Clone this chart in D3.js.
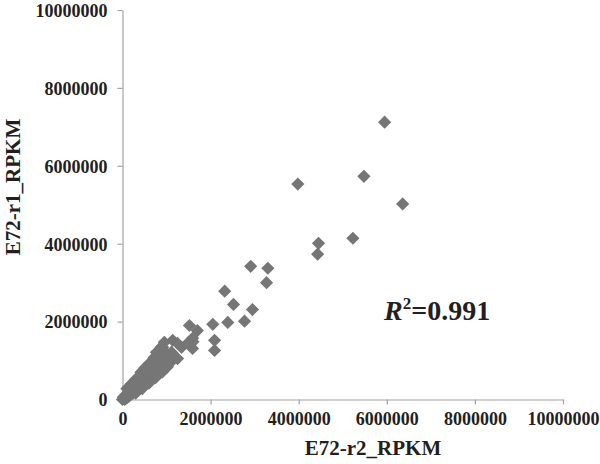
<!DOCTYPE html>
<html>
<head>
<meta charset="utf-8">
<script src="https://cdn.jsdelivr.net/npm/d3@7"></script>
<style>
  body { margin: 0; background: #fff; }
  svg text { font-family: "Liberation Serif", "Times New Roman", serif; font-weight: bold; fill: #231f20; }
</style>
</head>
<body>
<div id="chart"></div>
<script>
// Data (RPKM)
const r2Rpkm = [
  5950000, 5480000, 6360000, 3980000, 5230000, 4450000, 4430000, 2910000, 3300000, 3270000,
  2320000, 2520000, 2950000, 2390000, 2770000, 2050000, 1520000, 1700000, 1590000, 1590000,
  2090000, 2090000, 1600000,
  950000, 1140000, 1340000, 1250000, 1500000, 1250000, 1070000, 1110000, 910000, 770000,
  0, 20000, 50000, 60000, 100000, 100000, 140000, 150000, 180000, 200000,
  240000, 220000, 280000, 300000, 270000, 340000, 360000, 320000, 400000, 420000,
  380000, 470000, 480000, 440000, 530000, 540000, 500000, 600000, 600000, 560000,
  660000, 660000, 620000, 720000, 720000, 680000, 780000, 780000, 740000, 840000,
  840000, 800000, 920000, 900000, 860000, 980000, 960000, 920000, 1040000, 1020000,
  1080000, 1120000,
  100000, 200000, 300000, 420000, 500000, 600000, 720000, 800000, 880000,
  300000, 450000, 600000, 750000, 900000, 1020000
];
const r1Rpkm = [
  7120000, 5730000, 5020000, 5530000, 4140000, 4010000, 3730000, 3420000, 3370000, 3000000,
  2780000, 2440000, 2310000, 1980000, 2010000, 1930000, 1900000, 1770000, 1570000, 1310000,
  1520000, 1260000, 1480000,
  1470000, 1520000, 1340000, 1440000, 1470000, 1050000, 930000, 1210000, 1340000, 1210000,
  0, 60000, 0, 100000, 40000, 140000, 80000, 200000, 120000, 250000,
  160000, 320000, 220000, 300000, 380000, 270000, 360000, 450000, 320000, 430000,
  520000, 380000, 500000, 580000, 440000, 560000, 640000, 480000, 620000, 720000,
  550000, 680000, 800000, 600000, 760000, 880000, 660000, 840000, 960000, 720000,
  900000, 1020000, 800000, 980000, 1100000, 880000, 1060000, 1200000, 960000, 1160000,
  1060000, 1200000,
  280000, 400000, 520000, 700000, 800000, 920000, 1080000, 1200000, 1350000,
  160000, 280000, 420000, 560000, 700000, 840000
];
const tickValues = [0, 2000000, 4000000, 6000000, 8000000, 10000000];
const rSquared = "0.991";

const points = r2Rpkm.map((v, i) => [v, r1Rpkm[i]]);

const [w, h] = [600, 464];
const svg = d3.select("#chart")
  .append("svg")
  .attr("width", w)
  .attr("height", h);

const xScale = d3.scaleLinear().domain([0, 10000000]).range([122.5, 563]);
const yScale = d3.scaleLinear().domain([0, 10000000]).range([399.5, 10]);

// axes
const xAxis = d3.axisBottom(xScale)
  .tickValues(tickValues)
  .tickFormat(d3.format("d"))
  .tickSizeInner(5)
  .tickSizeOuter(0)
  .tickPadding(6);

const yAxis = d3.axisLeft(yScale)
  .tickValues(tickValues)
  .tickFormat(d3.format("d"))
  .tickSizeInner(5)
  .tickSizeOuter(0)
  .tickPadding(10);

const gx = svg.append("g")
  .attr("transform", `translate(0, ${yScale(0)})`)
  .call(xAxis);
const gy = svg.append("g")
  .attr("transform", `translate(${xScale(0)}, 0)`)
  .call(yAxis);

[gx, gy].forEach(g => {
  g.selectAll("path, line").attr("stroke", "#a3a3a3").attr("stroke-width", 1.2);
  g.selectAll("text").style("font-size", "18px").attr("fill", "#231f20");
});
gx.selectAll("text").attr("dy", "0.8em");
gy.selectAll("text").attr("dy", "0.35em");

// diamonds
svg.append("g")
  .selectAll("path")
  .data(points)
  .enter()
  .append("path")
  .attr("d", "M0,-6.6L6.6,0L0,6.6L-6.6,0Z")
  .attr("transform", d => `translate(${xScale(d[0])}, ${yScale(d[1])})`)
  .attr("fill", "#767676");

// axis titles
svg.append("text")
  .attr("x", 373)
  .attr("y", 455)
  .attr("text-anchor", "middle")
  .style("font-size", "21px")
  .text("E72-r2_RPKM");

svg.append("text")
  .attr("transform", "translate(20, 187) rotate(-90)")
  .attr("text-anchor", "middle")
  .style("font-size", "21px")
  .text("E72-r1_RPKM");

// R squared label
const r2 = svg.append("text")
  .attr("x", 384)
  .attr("y", 320)
  .style("font-size", "28px");
r2.append("tspan").style("font-style", "italic").text("R");
r2.append("tspan").attr("dy", -11).style("font-size", "17px").text("2");
r2.append("tspan").attr("dy", 11).text("=" + rSquared);
</script>
</body>
</html>
